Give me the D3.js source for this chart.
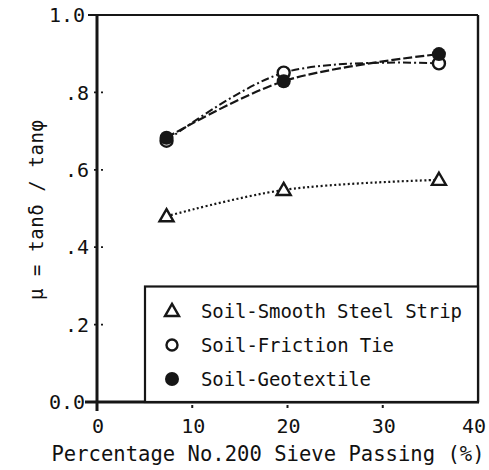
<!DOCTYPE html>
<meta charset="utf-8">
<style>
  body { margin: 0; background: #fff; }
  text { font-family: "DejaVu Sans Mono", "Liberation Mono", monospace; fill: #111; }
</style>
<svg width="489" height="470"></svg>
<script src="https://cdn.jsdelivr.net/npm/d3@7/dist/d3.min.js"></script>
<script>
  // fines content (%) at which the tests were run
  var passing = [7.3, 19.6, 35.9];
  // mu = tan(delta) / tan(phi)
  var steelStrip = [0.48, 0.548, 0.574];
  var frictionTie = [0.675, 0.851, 0.875];
  var geotextile = [0.683, 0.829, 0.899];

  var xTicks = [0, 10, 20, 30, 40];
  var yTicks = [0, 0.2, 0.4, 0.6, 0.8, 1.0];
  var yTickLabels = ["0.0", ".2", ".4", ".6", ".8", "1.0"];
  var legendLabels = ["Soil-Smooth Steel Strip", "Soil-Friction Tie", "Soil-Geotextile"];

  var svg = d3.select("svg"),
    pLeft = 97, pRight = 478, pTop = 15, pBottom = 402;

  var x = d3.scaleLinear().domain([0, 40]).range([pLeft, pRight]);
  var y = d3.scaleLinear().domain([0, 1]).range([pBottom, pTop]);

  var ink = "#161616";

  // frame: top and right thinner, left and bottom heavy
  svg.append("line").attr("x1", 88).attr("x2", pRight).attr("y1", pTop).attr("y2", pTop)
    .attr("stroke", ink).attr("stroke-width", 2.2);
  svg.append("line").attr("x1", pRight).attr("x2", pRight).attr("y1", pTop).attr("y2", pBottom)
    .attr("stroke", ink).attr("stroke-width", 2.4);
  svg.append("line").attr("x1", pLeft).attr("x2", pLeft).attr("y1", pTop).attr("y2", 411)
    .attr("stroke", ink).attr("stroke-width", 3);
  svg.append("line").attr("x1", 85).attr("x2", pRight + 1).attr("y1", pBottom).attr("y2", pBottom)
    .attr("stroke", ink).attr("stroke-width", 3.2);

  // y ticks: little dotted marks across the axis
  yTicks.forEach(function (v, i) {
    if (i > 0 && i < yTicks.length - 1) {
      svg.append("line").attr("x1", pLeft - 3).attr("x2", pLeft + 7)
        .attr("y1", y(v)).attr("y2", y(v))
        .attr("stroke", ink).attr("stroke-width", 1.8).attr("stroke-dasharray", "2,5");
    }
    svg.append("text")
      .attr("x", v === 1 || v === 0 ? 85 : 89)
      .attr("y", y(v))
      .attr("dy", "0.36em")
      .attr("text-anchor", "end")
      .style("font-size", "20px")
      .text(yTickLabels[i]);
  });

  // x ticks
  xTicks.forEach(function (v) {
    if (v > 0 && v < 40) {
      svg.append("line").attr("x1", x(v)).attr("x2", x(v))
        .attr("y1", pBottom + 3).attr("y2", pBottom + 6)
        .attr("stroke", ink).attr("stroke-width", 2);
    }
    svg.append("text")
      .attr("x", v === 40 ? x(v) - 4 : x(v) + 1)
      .attr("y", 433)
      .attr("text-anchor", "middle")
      .style("font-size", "20px")
      .text(v);
  });

  svg.append("text")
    .attr("x", 268).attr("y", 461)
    .attr("text-anchor", "middle")
    .attr("textLength", 433).attr("lengthAdjust", "spacing")
    .style("font-size", "20.5px")
    .text("Percentage No.200 Sieve Passing (%)");

  svg.append("text")
    .attr("transform", "translate(43,210) rotate(-90)")
    .attr("text-anchor", "middle")
    .attr("textLength", 180).attr("lengthAdjust", "spacing")
    .style("font-size", "19px")
    .text("\u03bc = tan\u03b4 / tan\u03c6");

  // series lines
  var line = d3.line()
    .x(function (d) { return x(d[0]); })
    .y(function (d) { return y(d[1]); })
    .curve(d3.curveCatmullRom.alpha(0.5));

  function pts(vals) { return passing.map(function (p, i) { return [p, vals[i]]; }); }

  svg.append("path").attr("d", line(pts(steelStrip)))
    .attr("fill", "none").attr("stroke", ink).attr("stroke-width", 2.2)
    .attr("stroke-dasharray", "2,2.5");
  svg.append("path").attr("d", line(pts(frictionTie)))
    .attr("fill", "none").attr("stroke", ink).attr("stroke-width", 2)
    .attr("stroke-dasharray", "8,3,2,3");
  svg.append("path").attr("d", line(pts(geotextile)))
    .attr("fill", "none").attr("stroke", ink).attr("stroke-width", 2.2)
    .attr("stroke-dasharray", "9,3");

  var tri = d3.symbol().type(d3.symbolTriangle).size(85);

  function triangle(g, cx, cy) {
    g.append("path").attr("d", tri())
      .attr("transform", "translate(" + cx + "," + cy + ")")
      .attr("fill", "#fff").attr("stroke", ink).attr("stroke-width", 2.4);
  }

  pts(steelStrip).forEach(function (d) { triangle(svg, x(d[0]), y(d[1]) + 1); });
  pts(frictionTie).forEach(function (d) {
    svg.append("circle").attr("cx", x(d[0])).attr("cy", y(d[1])).attr("r", 6)
      .attr("fill", "#fff").attr("stroke", ink).attr("stroke-width", 2.4);
  });
  pts(geotextile).forEach(function (d) {
    svg.append("circle").attr("cx", x(d[0])).attr("cy", y(d[1])).attr("r", 7)
      .attr("fill", ink);
  });

  // legend box
  var lg = svg.append("g");
  lg.append("rect").attr("x", 145).attr("y", 286.5)
    .attr("width", pRight - 145).attr("height", pBottom - 286.5)
    .attr("fill", "#fff").attr("stroke", ink).attr("stroke-width", 2.2);

  var rows = [311, 345, 379];
  var widths = [261, 193, 170];
  triangle(lg, 172, rows[0] + 1);
  lg.append("circle").attr("cx", 172).attr("cy", rows[1]).attr("r", 5.5)
    .attr("fill", "#fff").attr("stroke", ink).attr("stroke-width", 2.4);
  lg.append("circle").attr("cx", 172).attr("cy", rows[2]).attr("r", 7).attr("fill", ink);

  legendLabels.forEach(function (t, i) {
    lg.append("text")
      .attr("x", 201).attr("y", rows[i] + 7)
      .attr("textLength", widths[i]).attr("lengthAdjust", "spacing")
      .style("font-size", "19px")
      .text(t);
  });
</script>
